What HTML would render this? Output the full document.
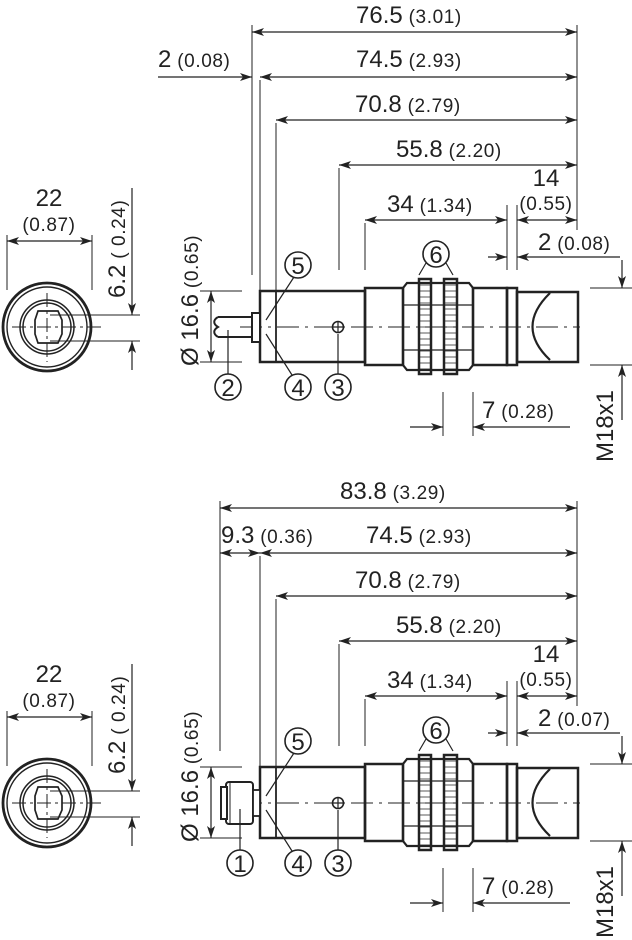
<!DOCTYPE html>
<html><head><meta charset="utf-8"><style>
html,body{margin:0;padding:0;background:#fff}
svg{display:block}
text{font-family:"Liberation Sans",sans-serif;fill:#222}
.b{font-size:24px}.s{font-size:19px;letter-spacing:0.6px}
</style></head><body>
<svg width="632" height="940" viewBox="0 0 632 940" xmlns="http://www.w3.org/2000/svg">
<defs>
<marker id="a" viewBox="0 0 12 8" refX="12" refY="4" markerWidth="12" markerHeight="8" markerUnits="userSpaceOnUse" orient="auto-start-reverse"><path d="M0,0 L12,4 L0,8 L3,4 Z" fill="#222"/></marker>
<g id="body" fill="none" stroke="#222">
  <rect x="260" y="291" width="105" height="71" stroke-width="2.5"/>
  <line x1="276" y1="291" x2="276" y2="362" stroke-width="1.8"/>
  <rect x="365" y="288" width="38" height="77" stroke-width="2.5"/>
  <path d="M403,288 l4,-5 h62 l4,5 v77 l-4,5 h-62 l-4,-5 Z" stroke-width="2.2"/>
  <line x1="403" y1="305" x2="473" y2="305" stroke-width="1.2"/>
  <line x1="403" y1="350" x2="473" y2="350" stroke-width="1.2"/>
  <rect x="419" y="279" width="12" height="95" stroke-width="2.5"/>
  <rect x="444" y="279" width="13" height="95" stroke-width="2.5"/>
  <path d="M419,285h12M419,291h12M419,297h12M419,303h12M419,309h12M419,315h12M419,321h12M419,327h12M419,333h12M419,339h12M419,345h12M419,351h12M419,357h12M419,363h12M419,369h12M444,285h13M444,291h13M444,297h13M444,303h13M444,309h13M444,315h13M444,321h13M444,327h13M444,333h13M444,339h13M444,345h13M444,351h13M444,357h13M444,363h13M444,369h13" stroke-width="0.7"/>
  <rect x="473" y="288" width="34" height="77" stroke-width="2.5"/>
  <rect x="507" y="288" width="10" height="77" stroke-width="2.5"/>
  <rect x="517" y="292" width="61" height="70" stroke-width="2.5"/>
  <path d="M550,293 Q515,327 550,360" stroke-width="2.2"/>
  <line x1="240" y1="327" x2="580" y2="327" stroke-width="1" stroke-dasharray="22,6,3,6"/>
  <circle cx="338" cy="327" r="5.5" stroke-width="1.6"/>
  <path d="M333,327h10M338,322v10" stroke-width="1.2"/>
  <circle cx="298" cy="265" r="13" stroke-width="1.6"/>
  <circle cx="298" cy="387" r="13" stroke-width="1.6"/>
  <circle cx="338" cy="387" r="13" stroke-width="1.6"/>
  <circle cx="436" cy="254" r="13" stroke-width="1.6"/>
  <path d="M294,277 L266,320 M266,334 L292,375 M338,334 V374 M426,263 L419,275 M446,263 L453,275" stroke-width="1.2"/>
  <path d="M200,291 H242 M200,362 H242" stroke-width="1"/>
  <line x1="211" y1="305" x2="211" y2="291" stroke-width="1.2" marker-end="url(#a)"/>
  <line x1="211" y1="305" x2="211" y2="362" stroke-width="1.2" marker-end="url(#a)"/>
  <path d="M590,288 H632 M590,365 H632" stroke-width="1"/>
  <line x1="622" y1="260" x2="622" y2="288" stroke-width="1.2" marker-end="url(#a)"/>
  <line x1="622" y1="420" x2="622" y2="365" stroke-width="1.2" marker-end="url(#a)"/>
  <path d="M443,392 V436 M473,392 V436" stroke-width="1"/>
  <line x1="410" y1="427" x2="443" y2="427" stroke-width="1.2" marker-end="url(#a)"/>
  <line x1="570" y1="427" x2="473" y2="427" stroke-width="1.2" marker-end="url(#a)"/>
  <circle cx="47" cy="327" r="44" stroke-width="2.8"/>
  <circle cx="47" cy="327" r="40" stroke-width="1.4"/>
  <circle cx="47" cy="327" r="27" stroke-width="1.5"/>
  <circle cx="47" cy="327" r="24" stroke-width="1.5"/>
  <path d="M38,311 H58 L62,320 V334 L58,343 H38 L35,334 V320 Z" stroke-width="1.7"/>
  <path d="M12,327 H102 M47,293 V362" stroke-width="1" stroke-dasharray="14,4,3,4"/>
  <path d="M50,315 H140 M50,341 H140" stroke-width="1"/>
  <path d="M7,235 V290 M92,235 V290" stroke-width="1"/>
  <line x1="50" y1="241" x2="7" y2="241" stroke-width="1.2" marker-end="url(#a)"/>
  <line x1="50" y1="241" x2="92" y2="241" stroke-width="1.2" marker-end="url(#a)"/>
  <line x1="132" y1="188" x2="132" y2="315" stroke-width="1.2" marker-end="url(#a)"/>
  <line x1="132" y1="370" x2="132" y2="341" stroke-width="1.2" marker-end="url(#a)"/>
</g>
<g id="common-text">
  <text class="b" x="298" y="274" text-anchor="middle">5</text>
  <text class="b" x="298" y="396" text-anchor="middle">4</text>
  <text class="b" x="338" y="396" text-anchor="middle">3</text>
  <text class="b" x="436" y="263" text-anchor="middle">6</text>
  <text x="482" y="418"><tspan class="b">7</tspan><tspan class="s"> (0.28)</tspan></text>
  <text class="b" transform="translate(613,462) rotate(-90)">M18x1</text>
  <text transform="translate(198,366) rotate(-90)"><tspan class="b">Ø 16.6</tspan><tspan class="s"> (0.65)</tspan></text>
  <text class="b" x="49" y="206" text-anchor="middle">22</text>
  <text class="s" x="49" y="231" text-anchor="middle">(0.87)</text>
  <text transform="translate(125,298) rotate(-90)"><tspan class="b">6.2</tspan><tspan class="s"> ( 0.24)</tspan></text>
  <g fill="none" stroke="#222">
    <path d="M260,80 V290 M276,123 V290 M339,168 V270 M365,223 V270 M507,205 V270 M517,205 V270 M577,25 V230" stroke-width="1"/>
    <line x1="320" y1="120" x2="276" y2="120" stroke-width="1.2" marker-end="url(#a)"/>
    <line x1="320" y1="120" x2="577" y2="120" stroke-width="1.2" marker-end="url(#a)"/>
    <line x1="380" y1="165" x2="339" y2="165" stroke-width="1.2" marker-end="url(#a)"/>
    <line x1="380" y1="165" x2="577" y2="165" stroke-width="1.2" marker-end="url(#a)"/>
    <line x1="420" y1="220" x2="365" y2="220" stroke-width="1.2" marker-end="url(#a)"/>
    <line x1="420" y1="220" x2="507" y2="220" stroke-width="1.2" marker-end="url(#a)"/>
    <line x1="540" y1="220" x2="517" y2="220" stroke-width="1.2" marker-end="url(#a)"/>
    <line x1="540" y1="220" x2="577" y2="220" stroke-width="1.2" marker-end="url(#a)"/>
    <line x1="488" y1="257" x2="507" y2="257" stroke-width="1.2" marker-end="url(#a)"/>
    <line x1="620" y1="257" x2="517" y2="257" stroke-width="1.2" marker-end="url(#a)"/>
  </g>
  <text x="355" y="112"><tspan class="b">70.8</tspan><tspan class="s"> (2.79)</tspan></text>
  <text x="396" y="157"><tspan class="b">55.8</tspan><tspan class="s"> (2.20)</tspan></text>
  <text x="387" y="212"><tspan class="b">34</tspan><tspan class="s"> (1.34)</tspan></text>
  <text class="b" x="546" y="186" text-anchor="middle">14</text>
  <text class="s" x="546" y="210" text-anchor="middle">(0.55)</text>
</g>
</defs>

<use href="#body"/>
<use href="#common-text"/>
<g fill="none" stroke="#222">
  <path d="M252,25 V275" stroke-width="1"/>
  <path d="M218,317 H252 V337 H218 M218,317 c-5,3 -5,7 0,10 c-5,3 -5,7 0,10" stroke-width="2"/>
  <rect x="252" y="313" width="8" height="29" stroke-width="2" fill="#fff"/>
  <line x1="228" y1="330" x2="228" y2="374" stroke-width="1.2"/>
  <circle cx="228" cy="387" r="13" stroke-width="1.6"/>
  <line x1="400" y1="32" x2="252" y2="32" stroke-width="1.2" marker-end="url(#a)"/>
  <line x1="400" y1="32" x2="577" y2="32" stroke-width="1.2" marker-end="url(#a)"/>
  <line x1="158" y1="77" x2="252" y2="77" stroke-width="1.2" marker-end="url(#a)"/>
  <line x1="400" y1="77" x2="260" y2="77" stroke-width="1.2" marker-end="url(#a)"/>
  <line x1="400" y1="77" x2="577" y2="77" stroke-width="1.2" marker-end="url(#a)"/>
</g>
<text class="b" x="228" y="396" text-anchor="middle">2</text>
<text x="356" y="23"><tspan class="b">76.5</tspan><tspan class="s"> (3.01)</tspan></text>
<text x="356" y="67"><tspan class="b">74.5</tspan><tspan class="s"> (2.93)</tspan></text>
<text x="158" y="67"><tspan class="b">2</tspan><tspan class="s"> (0.08)</tspan></text>
<text x="538" y="250"><tspan class="b">2</tspan><tspan class="s"> (0.08)</tspan></text>

<g transform="translate(0,476)">
  <use href="#body"/>
  <use href="#common-text"/>
  <g fill="none" stroke="#222">
    <path d="M220,25 V275" stroke-width="1"/>
    <rect x="226" y="306" width="27" height="42" rx="3" stroke-width="2" fill="#fff"/>
    <rect x="221" y="311" width="6" height="32" stroke-width="2" fill="#fff"/>
    <rect x="253" y="314" width="7" height="26" stroke-width="1.8" fill="#fff"/>
    <path d="M230,306 V348" stroke-width="1"/>
    <line x1="240" y1="333" x2="240" y2="374" stroke-width="1.2"/>
    <line x1="400" y1="32" x2="220" y2="32" stroke-width="1.2" marker-end="url(#a)"/>
    <line x1="400" y1="32" x2="577" y2="32" stroke-width="1.2" marker-end="url(#a)"/>
    <line x1="240" y1="77" x2="220" y2="77" stroke-width="1.2" marker-end="url(#a)"/>
    <line x1="240" y1="77" x2="260" y2="77" stroke-width="1.2" marker-end="url(#a)"/>
    <line x1="400" y1="77" x2="260" y2="77" stroke-width="1.2" marker-end="url(#a)"/>
    <line x1="400" y1="77" x2="577" y2="77" stroke-width="1.2" marker-end="url(#a)"/>
    <circle cx="240" cy="387" r="13" stroke-width="1.6"/>
  </g>
  <text class="b" x="240" y="396" text-anchor="middle">1</text>
  <text x="340" y="23"><tspan class="b">83.8</tspan><tspan class="s"> (3.29)</tspan></text>
  <text x="221" y="67"><tspan class="b">9.3</tspan><tspan class="s"> (0.36)</tspan></text>
  <text x="366" y="67"><tspan class="b">74.5</tspan><tspan class="s"> (2.93)</tspan></text>
  <text x="538" y="250"><tspan class="b">2</tspan><tspan class="s"> (0.07)</tspan></text>
</g>
</svg>
</body></html>
